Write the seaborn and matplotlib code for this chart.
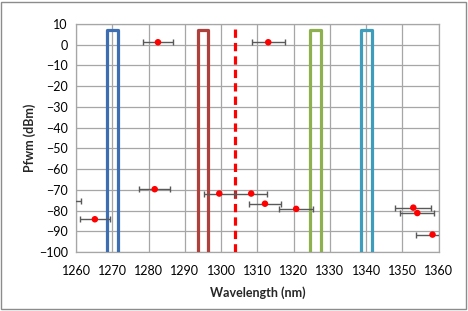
import matplotlib
matplotlib.use("Agg")
import matplotlib.pyplot as plt
import seaborn as sns
import pandas as pd
from matplotlib.patches import Rectangle

# channel boxes (centre wavelength, half width, top level)
channel_centers = [1270.0, 1295.0, 1326.0, 1340.0]
channel_half_width = 1.5
channel_top = 7.0
channel_colors = ["#3D6DB3", "#B0403C", "#8FB04E", "#3E9DBA"]

# dashed marker line
dash_wavelength = 1303.8

# FWM products
fwm_wavelength = [1282.6, 1313.0, 1281.7, 1265.2, 1257.2, 1299.5,
                  1308.3, 1312.1, 1320.7, 1353.0, 1354.1, 1358.3]
fwm_power = [1.2, 1.2, -69.7, -84.2, -75.5, -71.8,
             -71.8, -76.7, -79.2, -78.6, -81.2, -91.6]
fwm_err = [4.2, 4.6, 4.2, 4.2, 4.2, 4.3,
           4.4, 4.4, 4.7, 5.0, 4.7, 4.6]

x_ticks = list(range(1260, 1361, 10))
y_ticks = list(range(-100, 11, 10))

df = pd.DataFrame({"wl": fwm_wavelength, "p": fwm_power, "err": fwm_err})

sns.set_style("white")
plt.rcParams["font.family"] = ["Lato", "DejaVu Sans"]

fig = plt.figure(figsize=(4.68, 3.11), dpi=100)
ax = fig.add_axes([0.1624, 0.1897, 0.775, 0.7331])

# channel boxes
for c, col in zip(channel_centers, channel_colors):
    ax.plot([c - channel_half_width, c - channel_half_width,
             c + channel_half_width, c + channel_half_width],
            [-100, channel_top, channel_top, -100],
            color=col, lw=2.3, solid_joinstyle="round", zorder=3)

ax.axvline(dash_wavelength, color="#FF0000", lw=2.3, dashes=(2.6, 1.6), zorder=3)

ax.errorbar(df["wl"], df["p"], xerr=df["err"], fmt="none",
            ecolor="#595959", elinewidth=1.0, capsize=2.5, capthick=1.0, zorder=4)
sns.scatterplot(data=df, x="wl", y="p", color="#FF0000", s=22,
                edgecolor="none", zorder=5, ax=ax, legend=False)

ax.set_xlim(1260, 1360)
ax.set_ylim(-100, 10)
ax.set_xticks(x_ticks)
ax.set_yticks(y_ticks)
ax.grid(True, color="#A6A6A6", lw=0.9)
ax.set_axisbelow(True)
for s in ax.spines.values():
    s.set_color("#A6A6A6")
    s.set_linewidth(0.9)
ax.tick_params(axis="both", length=0, labelsize=9, colors="black")
ax.tick_params(axis="x", pad=9)
ax.tick_params(axis="y", pad=6)

ax.set_xlabel("Wavelength (nm)", fontsize=9, fontweight="bold", labelpad=7)
ax.set_ylabel("Pfwm (dBm)", fontsize=9, fontweight="bold", labelpad=2)

fig.patches.append(Rectangle((0.003, 0.005), 0.993, 0.99, transform=fig.transFigure,
                             fill=False, edgecolor="#8C8C8C", lw=1.0))

fig.savefig("out.png", dpi=100)
